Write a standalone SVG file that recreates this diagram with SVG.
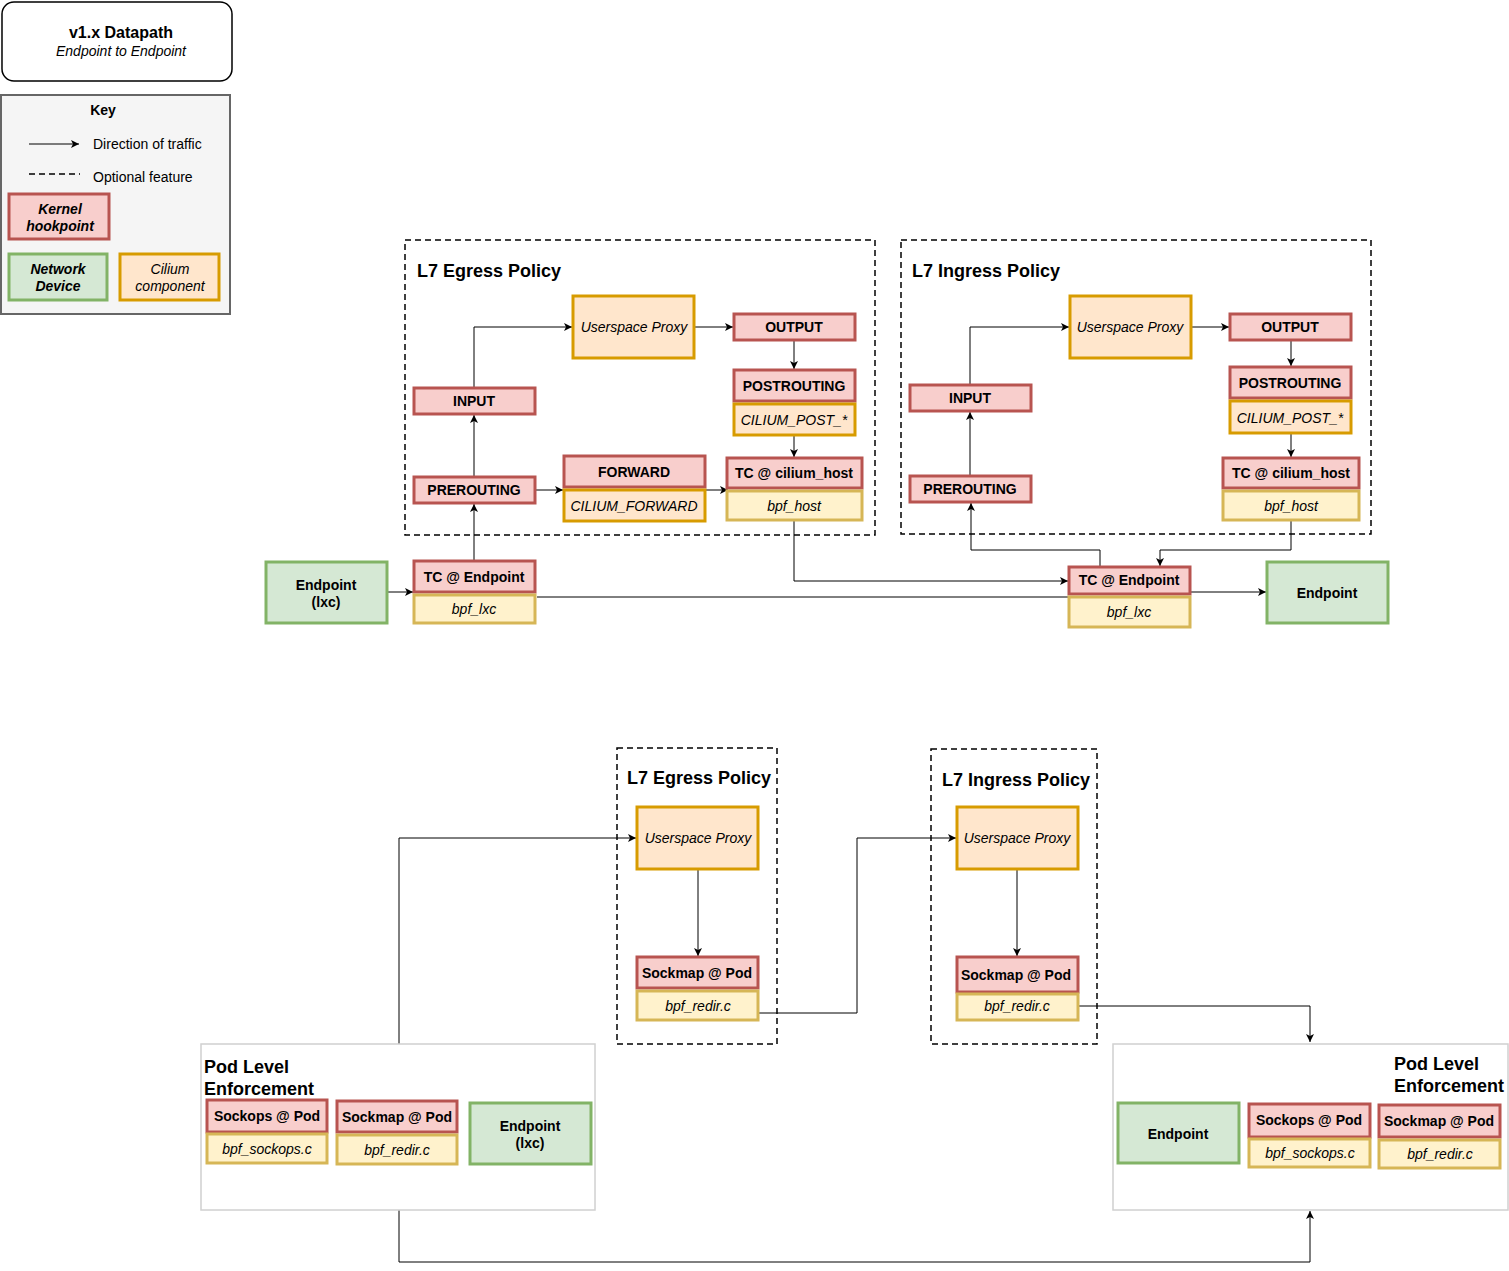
<svg xmlns="http://www.w3.org/2000/svg" width="1509" height="1271" viewBox="0 0 1509 1271">
<defs>
<marker id="arr" markerWidth="10" markerHeight="10" refX="8" refY="5" orient="auto" markerUnits="userSpaceOnUse">
<path d="M0,1 L8,5 L0,9 L2,5 Z" fill="#000"/>
</marker>
</defs>
<style>
text{font-family:"Liberation Sans",Arial,sans-serif;fill:#000}
.k{fill:#f8cecc;stroke:#b85450;stroke-width:3}
.o{fill:#ffe6cc;stroke:#d79b00;stroke-width:3}
.y{fill:#fff2cc;stroke:#d6b656;stroke-width:3}
.g{fill:#d5e8d4;stroke:#82b366;stroke-width:3}
.dash{fill:none;stroke:#000;stroke-width:1.5;stroke-dasharray:6 4}
.pod{fill:#fff;stroke:#d0d0d0;stroke-width:1.5}
.b{font-weight:bold;font-size:14px;text-anchor:middle}
.i{font-style:italic;font-size:14px;text-anchor:middle}
.h{font-weight:bold;font-size:18px}
.c{fill:none;stroke:#000;stroke-width:1;marker-end:url(#arr)}
.cn{fill:none;stroke:#000;stroke-width:1}
</style>

<g id="title">
<rect x="2" y="2" width="230" height="79" rx="12" fill="#fff" stroke="#000" stroke-width="1.5"/>
<text x="121" y="38" font-weight="bold" font-size="16" text-anchor="middle">v1.x Datapath</text>
<text x="121" y="56" font-style="italic" font-size="14" text-anchor="middle">Endpoint to Endpoint</text>
</g>

<g id="key">
<rect x="1" y="95" width="229" height="219" fill="#f5f5f5" stroke="#666" stroke-width="2"/>
<text x="103" y="115" font-weight="bold" font-size="14" text-anchor="middle">Key</text>
<line x1="29" y1="144" x2="79" y2="144" class="c"/>
<text x="93" y="149" font-size="14">Direction of traffic</text>
<line x1="29" y1="174" x2="80" y2="174" stroke="#000" stroke-width="1.5" stroke-dasharray="6 4"/>
<text x="93" y="182" font-size="14">Optional feature</text>
<rect x="9" y="194" width="100" height="45" class="k"/>
<text x="60" y="214" font-weight="bold" font-style="italic" font-size="14" text-anchor="middle">Kernel</text>
<text x="60" y="231" font-weight="bold" font-style="italic" font-size="14" text-anchor="middle">hookpoint</text>
<rect x="9" y="254" width="98" height="46" class="g"/>
<text x="58" y="274" font-weight="bold" font-style="italic" font-size="14" text-anchor="middle">Network</text>
<text x="58" y="291" font-weight="bold" font-style="italic" font-size="14" text-anchor="middle">Device</text>
<rect x="120" y="254" width="99" height="46" class="o"/>
<text x="170" y="274" font-style="italic" font-size="14" text-anchor="middle">Cilium</text>
<text x="170" y="291" font-style="italic" font-size="14" text-anchor="middle">component</text>
</g>

<g id="egress-top">
<rect x="405" y="240" width="470" height="295" class="dash"/>
<text x="417" y="277" class="h">L7 Egress Policy</text>
</g>
<g id="ingress-top">
<rect x="901" y="240" width="470" height="294" class="dash"/>
<text x="912" y="277" class="h">L7 Ingress Policy</text>
</g>

<g id="connectors">
<polyline points="474,561 474,504" class="c"/>
<polyline points="474,477 474,415" class="c"/>
<polyline points="474,388 474,327 572,327" class="c"/>
<polyline points="694,327 733,327" class="c"/>
<polyline points="794,340 794,369" class="c"/>
<polyline points="794,435 794,457" class="c"/>
<polyline points="535,490 563,490" class="c"/>
<polyline points="705,490 728,490" class="c"/>
<polyline points="794,520 794,581 1068,581" class="c"/>
<polyline points="387,592 413,592" class="c"/>
<polyline points="537,597 1069,597" class="cn"/>
<polyline points="1190,592 1266,592" class="c"/>
<polyline points="970,476 970,412" class="c"/>
<polyline points="970,385 970,327 1069,327" class="c"/>
<polyline points="1191,327 1229,327" class="c"/>
<polyline points="1291,340 1291,366" class="c"/>
<polyline points="1291,433 1291,457" class="c"/>
<polyline points="1291,520 1291,550 1160,550 1160,566" class="c"/>
<polyline points="1100,567 1100,550 971,550 971,503" class="c"/>
<polyline points="399,1044 399,838 636,838" class="c"/>
<polyline points="698,869 698,956" class="c"/>
<polyline points="758,1013 857,1013 857,838 956,838" class="c"/>
<polyline points="1017,869 1017,956" class="c"/>
<polyline points="1078,1006 1310,1006 1310,1042" class="c"/>
<polyline points="399,1210 399,1262 1310,1262 1310,1211" class="c"/>
</g>

<g id="e-proxy"><rect x="573" y="296" width="121" height="62" class="o"/><text x="634" y="332" class="i">Userspace Proxy</text></g>
<g id="e-output"><rect x="734" y="314" width="121" height="26" class="k"/><text x="794" y="332" class="b">OUTPUT</text></g>
<g id="e-postrouting"><rect x="734" y="370" width="121" height="31" class="k"/><text x="794" y="391" class="b">POSTROUTING</text></g>
<g id="e-ciliumpost"><rect x="734" y="404" width="121" height="31" class="o"/><text x="794" y="425" class="i">CILIUM_POST_*</text></g>
<g id="e-tchost"><rect x="727" y="458" width="135" height="30" class="k"/><text x="794" y="478" class="b">TC @ cilium_host</text></g>
<g id="e-bpfhost"><rect x="727" y="491" width="135" height="29" class="y"/><text x="794" y="511" class="i">bpf_host</text></g>
<g id="e-input"><rect x="414" y="388" width="121" height="26" class="k"/><text x="474" y="406" class="b">INPUT</text></g>
<g id="e-prerouting"><rect x="414" y="477" width="121" height="26" class="k"/><text x="474" y="495" class="b">PREROUTING</text></g>
<g id="e-forward"><rect x="564" y="456" width="141" height="31" class="k"/><text x="634" y="477" class="b">FORWARD</text></g>
<g id="e-ciliumfwd"><rect x="564" y="490" width="141" height="31" class="o"/><text x="634" y="511" class="i">CILIUM_FORWARD</text></g>

<g id="i-proxy"><rect x="1070" y="296" width="121" height="62" class="o"/><text x="1130" y="332" class="i">Userspace Proxy</text></g>
<g id="i-output"><rect x="1230" y="314" width="121" height="26" class="k"/><text x="1290" y="332" class="b">OUTPUT</text></g>
<g id="i-postrouting"><rect x="1230" y="367" width="121" height="31" class="k"/><text x="1290" y="388" class="b">POSTROUTING</text></g>
<g id="i-ciliumpost"><rect x="1230" y="401" width="121" height="32" class="o"/><text x="1290" y="423" class="i">CILIUM_POST_*</text></g>
<g id="i-tchost"><rect x="1223" y="458" width="136" height="30" class="k"/><text x="1291" y="478" class="b">TC @ cilium_host</text></g>
<g id="i-bpfhost"><rect x="1223" y="491" width="136" height="29" class="y"/><text x="1291" y="511" class="i">bpf_host</text></g>
<g id="i-input"><rect x="910" y="385" width="121" height="26" class="k"/><text x="970" y="403" class="b">INPUT</text></g>
<g id="i-prerouting"><rect x="910" y="476" width="121" height="26" class="k"/><text x="970" y="494" class="b">PREROUTING</text></g>

<g id="ep-left"><rect x="266" y="562" width="121" height="61" class="g"/><text x="326" y="590" class="b">Endpoint</text><text x="326" y="607" class="b">(lxc)</text></g>
<g id="tc-ep-left"><rect x="414" y="561" width="121" height="31" class="k"/><text x="474" y="582" class="b">TC @ Endpoint</text></g>
<g id="lxc-left"><rect x="414" y="595" width="121" height="28" class="y"/><text x="474" y="614" class="i">bpf_lxc</text></g>
<g id="tc-ep-right"><rect x="1069" y="567" width="121" height="27" class="k"/><text x="1129" y="585" class="b">TC @ Endpoint</text></g>
<g id="lxc-right"><rect x="1069" y="597" width="121" height="30" class="y"/><text x="1129" y="617" class="i">bpf_lxc</text></g>
<g id="ep-right"><rect x="1267" y="562" width="121" height="61" class="g"/><text x="1327" y="598" class="b">Endpoint</text></g>

<g id="egress-bottom">
<rect x="617" y="748" width="160" height="296" class="dash"/>
<text x="627" y="784" class="h">L7 Egress Policy</text>
</g>
<g id="eb-proxy"><rect x="637" y="807" width="121" height="62" class="o"/><text x="698" y="843" class="i">Userspace Proxy</text></g>
<g id="eb-sockmap"><rect x="637" y="957" width="121" height="31" class="k"/><text x="697" y="978" class="b">Sockmap @ Pod</text></g>
<g id="eb-redir"><rect x="637" y="991" width="121" height="29" class="y"/><text x="698" y="1011" class="i">bpf_redir.c</text></g>

<g id="ingress-bottom">
<rect x="931" y="749" width="166" height="295" class="dash"/>
<text x="942" y="786" class="h">L7 Ingress Policy</text>
</g>
<g id="ib-proxy"><rect x="957" y="807" width="121" height="62" class="o"/><text x="1017" y="843" class="i">Userspace Proxy</text></g>
<g id="ib-sockmap"><rect x="957" y="957" width="121" height="35" class="k"/><text x="1016" y="980" class="b">Sockmap @ Pod</text></g>
<g id="ib-redir"><rect x="957" y="994" width="121" height="26" class="y"/><text x="1017" y="1011" class="i">bpf_redir.c</text></g>

<g id="pod-left">
<rect x="201" y="1044" width="394" height="166" class="pod"/>
<text x="204" y="1073" class="h">Pod Level</text>
<text x="204" y="1095" class="h">Enforcement</text>
</g>
<g id="pl-sockops"><rect x="207" y="1100" width="120" height="32" class="k"/><text x="267" y="1121" class="b">Sockops @ Pod</text></g>
<g id="pl-sockopsc"><rect x="207" y="1134" width="120" height="29" class="y"/><text x="267" y="1154" class="i">bpf_sockops.c</text></g>
<g id="pl-sockmap"><rect x="337" y="1101" width="120" height="31" class="k"/><text x="397" y="1122" class="b">Sockmap @ Pod</text></g>
<g id="pl-redir"><rect x="337" y="1135" width="120" height="29" class="y"/><text x="397" y="1155" class="i">bpf_redir.c</text></g>
<g id="pl-endpoint"><rect x="470" y="1103" width="121" height="61" class="g"/><text x="530" y="1131" class="b">Endpoint</text><text x="530" y="1148" class="b">(lxc)</text></g>

<g id="pod-right">
<rect x="1113" y="1044" width="395" height="166" class="pod"/>
<text x="1394" y="1070" class="h">Pod Level</text>
<text x="1394" y="1092" class="h">Enforcement</text>
</g>
<g id="pr-endpoint"><rect x="1118" y="1103" width="121" height="60" class="g"/><text x="1178" y="1139" class="b">Endpoint</text></g>
<g id="pr-sockops"><rect x="1249" y="1104" width="121" height="33" class="k"/><text x="1309" y="1125" class="b">Sockops @ Pod</text></g>
<g id="pr-sockopsc"><rect x="1249" y="1139" width="121" height="28" class="y"/><text x="1310" y="1158" class="i">bpf_sockops.c</text></g>
<g id="pr-sockmap"><rect x="1379" y="1105" width="121" height="32" class="k"/><text x="1439" y="1126" class="b">Sockmap @ Pod</text></g>
<g id="pr-redir"><rect x="1379" y="1140" width="121" height="28" class="y"/><text x="1440" y="1159" class="i">bpf_redir.c</text></g>
</svg>
